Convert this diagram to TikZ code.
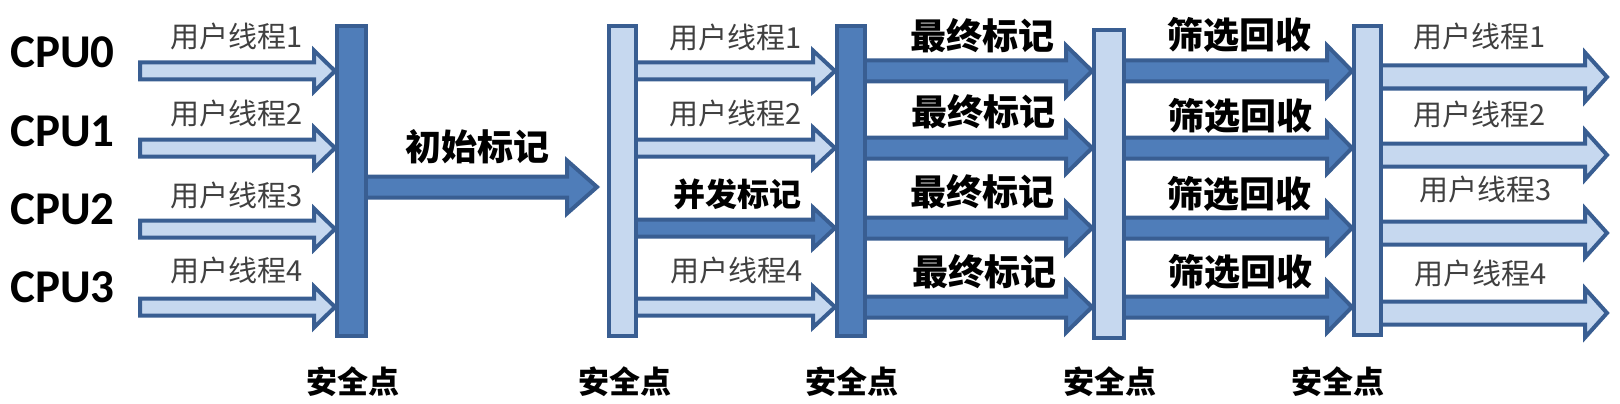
\documentclass[tikz,border=0pt]{standalone}
\usepackage{fontspec}
\setmainfont{Carlito}
\newfontfamily\cjk{Noto Sans CJK SC}
\usetikzlibrary{calc}
\pgfdeclarelayer{background}
\pgfsetlayers{background,main}
\definecolor{darkfill}{HTML}{4F7DB9}
\definecolor{lightfill}{HTML}{C6D8EF}
\definecolor{edgeblue}{HTML}{395E92}
\definecolor{threadgray}{HTML}{404040}
% #1 style, #2 start, #3 tip, #4 shaft half, #5 head half, #6 head length
\newcommand\blockarrow[6]{%
  \draw[#1] ($#2+(0,-#4)$) -- ($#3+(-#6,-#4)$) -- ($#3+(-#6,-#5)$) -- #3
    -- ($#3+(-#6,#5)$) -- ($#3+(-#6,#4)$) -- ($#2+(0,#4)$) -- cycle;}
\begin{document}
\begin{tikzpicture}[x=1pt,y=-1pt,
  darkbar/.style={draw=edgeblue, fill=darkfill, line width=4pt, inner sep=0pt},
  lightbar/.style={draw=edgeblue, fill=lightfill, line width=4pt, inner sep=0pt},
  darkarrow/.style={draw=edgeblue, fill=darkfill, line width=4pt, line join=miter},
  lightarrow/.style={draw=edgeblue, fill=lightfill, line width=4pt, line join=miter},
  cpu/.style={font=\fontsize{47}{50}\selectfont\bfseries, anchor=west, inner sep=0pt},
  thread/.style={font=\cjk\fontsize{29}{32}\selectfont, text=threadgray, inner sep=0pt},
  phase/.style={font=\cjk\fontsize{36}{40}\selectfont\bfseries, inner sep=0pt},
  smallphase/.style={font=\cjk\fontsize{32}{36}\selectfont\bfseries, inner sep=0pt},
  safe/.style={font=\cjk\fontsize{31}{34}\selectfont\bfseries, inner sep=0pt}]
\useasboundingbox (0,0) rectangle (1620,404);

% bars (safe points)
\node[darkbar,  minimum width=29, minimum height=310] (b1) at (351.5,181) {};
\node[lightbar, minimum width=27, minimum height=310] (b2) at (622.5,181) {};
\node[darkbar,  minimum width=28, minimum height=310] (b3) at (851,181) {};
\node[lightbar, minimum width=30, minimum height=308] (b4) at (1109,184) {};
\node[lightbar, minimum width=27, minimum height=309] (b5) at (1367.5,180.5) {};

% row coordinates
\coordinate (r1) at (0,71);
\coordinate (r2) at (0,148);
\coordinate (r3) at (0,228);
\coordinate (r4) at (0,307);
\coordinate (q1) at (0,77);
\coordinate (q2) at (0,155);
\coordinate (q3) at (0,233);
\coordinate (q4) at (0,313);
\coordinate (m) at (0,187);
\coordinate (s1) at (140,71);
\coordinate (s2) at (140,148);
\coordinate (s3) at (140,229);
\coordinate (s4) at (140,307);
\coordinate (e1) at (1607,77);
\coordinate (e2) at (1607,155);
\coordinate (e3) at (1607,233);
\coordinate (e4) at (1607,313);
\coordinate (mt) at ($(b2.west |- m)+(-10,0)$);

\begin{pgfonlayer}{background}
\fill[white] (0,0) rectangle (1620,404);
% column 1
\blockarrow{lightarrow}{(s1)}{(b1.west |- s1)}{8.5}{20.5}{21}
\blockarrow{lightarrow}{(s2)}{(b1.west |- s2)}{8.5}{20.5}{21}
\blockarrow{lightarrow}{(s3)}{(b1.west |- s3)}{8.5}{20.5}{21}
\blockarrow{lightarrow}{(s4)}{(b1.west |- s4)}{8.5}{20.5}{21}
% initial mark
\blockarrow{darkarrow}{(b1.center |- m)}{(mt)}{10.5}{26.5}{30}
% column 2
\blockarrow{lightarrow}{(b2.center |- r1)}{(b3.west |- r1)}{8.5}{20.5}{22}
\blockarrow{lightarrow}{(b2.center |- r2)}{(b3.west |- r2)}{8.5}{20.5}{22}
\blockarrow{darkarrow}{(b2.center |- r3)}{(b3.west |- r3)}{8.5}{20.5}{22}
\blockarrow{lightarrow}{(b2.center |- r4)}{(b3.west |- r4)}{8.5}{20.5}{22}
% column 3
\blockarrow{darkarrow}{(b3.center |- r1)}{(b4.west |- r1)}{10.5}{25.5}{26}
\blockarrow{darkarrow}{(b3.center |- r2)}{(b4.west |- r2)}{10.5}{25.5}{26}
\blockarrow{darkarrow}{(b3.center |- r3)}{(b4.west |- r3)}{10.5}{25.5}{26}
\blockarrow{darkarrow}{(b3.center |- r4)}{(b4.west |- r4)}{10.5}{25.5}{26}
% column 4
\blockarrow{darkarrow}{(b4.center |- r1)}{(b5.west |- r1)}{10.5}{25.5}{25}
\blockarrow{darkarrow}{(b4.center |- r2)}{(b5.west |- r2)}{10.5}{25.5}{25}
\blockarrow{darkarrow}{(b4.center |- r3)}{(b5.west |- r3)}{10.5}{25.5}{25}
\blockarrow{darkarrow}{(b4.center |- r4)}{(b5.west |- r4)}{10.5}{25.5}{25}
% column 5
\blockarrow{lightarrow}{(b5.center |- q1)}{(e1)}{11.5}{24.5}{22}
\blockarrow{lightarrow}{(b5.center |- q2)}{(e2)}{11.5}{24.5}{22}
\blockarrow{lightarrow}{(b5.center |- q3)}{(e3)}{11.5}{24.5}{22}
\blockarrow{lightarrow}{(b5.center |- q4)}{(e4)}{11.5}{24.5}{22}
\end{pgfonlayer}

% CPU labels
\node[cpu] (cpu0) at (10,52) {CPU0};
\node[cpu] (cpu1) at (10,131) {CPU1};
\node[cpu] (cpu2) at (10,209) {CPU2};
\node[cpu] (cpu3) at (10,287) {CPU3};

% column 1 labels
\node[thread] (t11) at (237,36) {用户线程1};
\node[thread] (t12) at (237,113) {用户线程2};
\node[thread] (t13) at (237,195) {用户线程3};
\node[thread] (t14) at (237,270) {用户线程4};

\node[phase] (init) at (477,147) {初始标记};

% column 2 labels
\node[thread] (t21) at (736,37) {用户线程1};
\node[thread] (t22) at (736,113) {用户线程2};
\node[smallphase] (conc) at (737,194) {并发标记};
\node[thread] (t24) at (737,270) {用户线程4};

% column 3 labels
\node[phase] (f1) at (982,36) {最终标记};
\node[phase] (f2) at (983,112) {最终标记};
\node[phase] (f3) at (982,192) {最终标记};
\node[phase] (f4) at (984,272) {最终标记};

% column 4 labels
\node[phase] (c1) at (1239,35) {筛选回收};
\node[phase] (c2) at (1240,116) {筛选回收};
\node[phase] (c3) at (1239,194) {筛选回收};
\node[phase] (c4) at (1240,272) {筛选回收};

% column 5 labels
\node[thread] (t51) at (1480,36) {用户线程1};
\node[thread] (t52) at (1480,114) {用户线程2};
\node[thread] (t53) at (1486,189) {用户线程3};
\node[thread] (t54) at (1481,273) {用户线程4};

% safe point labels
\node[safe] (sp1) at (353,382) {安全点};
\node[safe] (sp2) at (625,382) {安全点};
\node[safe] (sp3) at (852,382) {安全点};
\node[safe] (sp4) at (1110,382) {安全点};
\node[safe] (sp5) at (1338,382) {安全点};
\end{tikzpicture}
\end{document}
